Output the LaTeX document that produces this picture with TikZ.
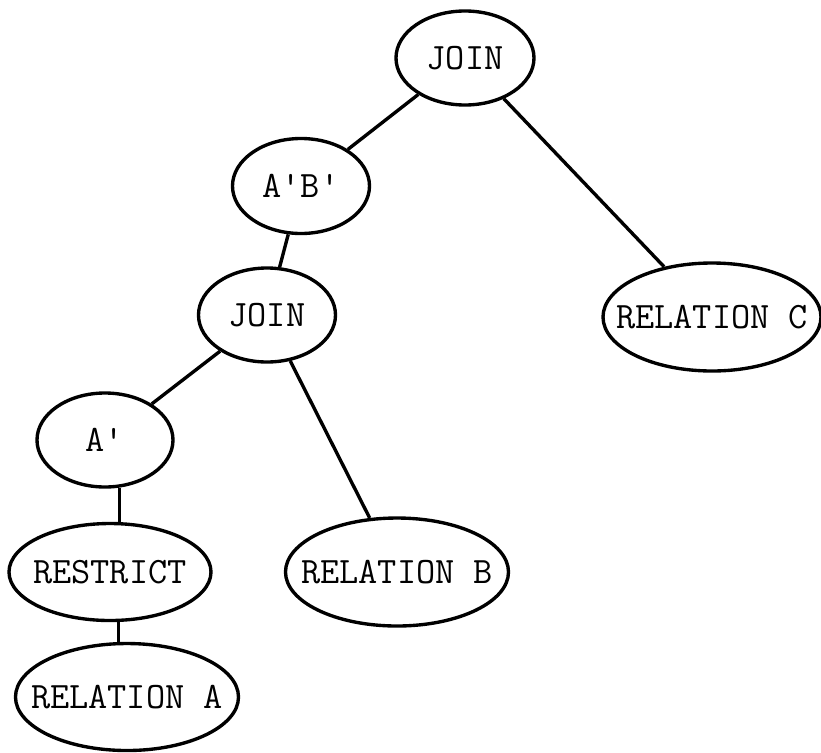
\documentclass[tikz,border=0pt]{standalone}
\usetikzlibrary{positioning,shapes.geometric}

\begin{document}
\begin{tikzpicture}[x=0.25mm, y=-0.25mm, on grid, line width=2.4pt, font=\ttfamily\fontsize{26.5}{30}\selectfont, oval/.style 2 args={ellipse,draw,inner xsep=-12mm,inner ysep=0pt,minimum width=#1,minimum height=#2}]
\useasboundingbox (0,0) rectangle (821,753);
\node[oval={34.5mm}{23.5mm}] (topjoin) at (465,58) {JOIN};
\node[oval={34.25mm}{23.75mm},below left=32mm and 41mm of topjoin] (ab) {A\textquotesingle B\textquotesingle};
\node[oval={54.5mm}{27mm},below right=64.75mm and 61.75mm of topjoin] (relc) {RELATION C};
\node[oval={34.25mm}{23.5mm},below left=32.25mm and 8.5mm of ab] (midjoin) {JOIN};
\node[oval={34mm}{23.5mm},below left=31.25mm and 40.5mm of midjoin] (a) {A\textquotesingle};
\node[oval={55.75mm}{27mm},below right=64.25mm and 32.5mm of midjoin] (relb) {RELATION B};
\node[oval={50.5mm}{24.25mm},below right=33mm and 1.25mm of a] (restrict) {RESTRICT};
\node[oval={55.75mm}{26.75mm},below right=31.25mm and 4.25mm of restrict] (rela) {RELATION A};
\draw (topjoin) -- (ab);
\draw (topjoin) -- (relc);
\draw (ab) -- (midjoin);
\draw (midjoin) -- (a);
\draw (midjoin) -- (relb);
\draw (a.-73) -- (a.-73 |- restrict.north);
\draw (restrict.-80) -- (restrict.-80 |- rela.north);
\end{tikzpicture}
\end{document}
